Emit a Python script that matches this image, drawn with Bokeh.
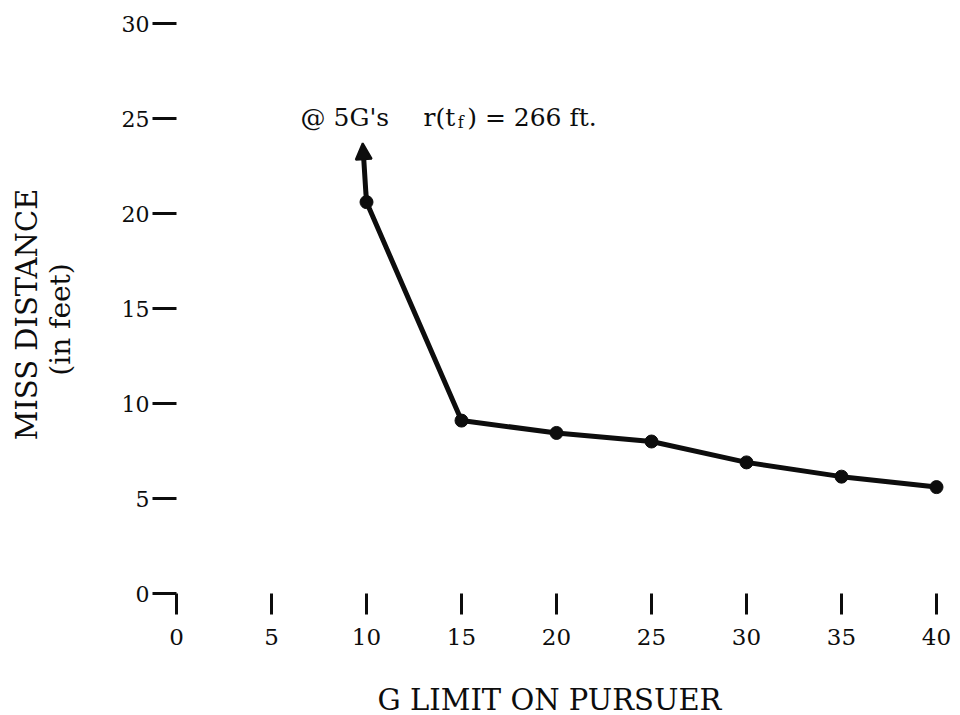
import math
from bokeh.plotting import figure
from bokeh.layouts import row, column
from bokeh.models import Range1d, FixedTicker, Label, Arrow, NormalHead, ColumnDataSource
from bokeh.core.properties import value
from bokeh.embed import file_html
from bokeh.resources import INLINE

# ---- data ----
g_limit = [10, 15, 20, 25, 30, 35, 40]
miss_distance = [20.6, 9.1, 8.45, 8.0, 6.9, 6.15, 5.6]
arrow_tip_x = 9.8
arrow_tip_y = 23.7
x_ticks = [0, 5, 10, 15, 20, 25, 30, 35, 40]
y_ticks = [0, 5, 10, 15, 20, 25, 30]
x_title = "G LIMIT ON PURSUER"
y_title = "MISS DISTANCE"
y_subtitle = "(in feet)"
note_head = "@ 5G's"
note_mid = "r(t"
note_sub = "f"
note_tail = ") = 266 ft."

FONT = "DejaVu Serif"
INK = "#0d0d0d"


def strip(w, h, fh):
    fig = figure(width=w, height=h, output_backend="svg", toolbar_location=None,
                 x_range=Range1d(0, w), y_range=Range1d(0, fh),
                 x_axis_location=None, y_axis_location=None, min_border=0)
    fig.outline_line_color = None
    fig.xgrid.visible = False
    fig.ygrid.visible = False
    fig.background_fill_color = "white"
    fig.border_fill_color = "white"
    return fig


# ---- main plot ----
p = figure(width=870, height=660, output_backend="svg", toolbar_location=None,
           x_range=Range1d(0, 784 / 19), y_range=Range1d(0, 593 / 19),
           min_border_left=86, min_border_right=0, min_border_top=0, min_border_bottom=67)
p.outline_line_color = None
p.xgrid.visible = False
p.ygrid.visible = False
p.background_fill_color = "white"
p.border_fill_color = "white"

xa = p.xaxis[0]
xa.ticker = FixedTicker(ticks=x_ticks)
xa.axis_line_color = None
xa.major_tick_out = 21
xa.major_tick_in = 0
xa.major_tick_line_width = 3
xa.major_tick_line_color = INK
xa.minor_tick_line_color = None
xa.major_label_standoff = 14
xa.major_label_text_font = FONT
xa.major_label_text_font_size = "23px"
xa.major_label_text_color = INK

ya = p.yaxis[0]
ya.ticker = FixedTicker(ticks=y_ticks)
ya.axis_line_color = None
ya.major_tick_out = 24
ya.major_tick_in = 0
ya.major_tick_line_width = 3
ya.major_tick_line_color = INK
ya.minor_tick_line_color = None
ya.major_label_standoff = 3
ya.major_label_text_font = FONT
ya.major_label_text_font_size = "22px"
ya.major_label_text_color = INK

src = ColumnDataSource(dict(x=g_limit, y=miss_distance))
p.line("x", "y", source=src, line_width=5, line_color=INK, line_join="round")
p.scatter("x", "y", source=src, size=13, fill_color=INK, line_color=INK)

p.add_layout(Arrow(end=NormalHead(size=16, fill_color=INK, line_color=INK, line_width=2),
                   x_start=g_limit[0], y_start=miss_distance[0],
                   x_end=arrow_tip_x, y_end=arrow_tip_y,
                   line_width=5, line_color=INK))


# annotation "@ 5G's r(t_f) = 266 ft."
def note(x, y, text, size):
    p.add_layout(Label(x=x, y=y, text=text, text_align="left", text_baseline="alphabetic",
                       text_font=FONT, text_font_size=size, text_color=INK))


note(6.53, 25.05, note_head, "25px")
note(13.0, 25.05, note_mid, "25px")
note(14.8, 24.8, note_sub, "16px")
note(15.3, 25.05, note_tail, "25px")

# ---- left strip with the y titles (its frame is aligned to the main frame: 593 px tall) ----
left = strip(90, 660, 593)
left.text(x=[26], y=[593 - 314], text=[y_title], angle=math.pi / 2,
          text_align="center", text_baseline="middle",
          text_font=value(FONT), text_font_size="29px", text_color=INK)
left.text(x=[60], y=[593 - 319], text=[y_subtitle], angle=math.pi / 2,
          text_align="center", text_baseline="middle",
          text_font=value(FONT), text_font_size="28px", text_color=INK)

# ---- bottom strip with the x title ----
bottom = strip(960, 55, 55)
bottom.text(x=[549], y=[16], text=[x_title], text_align="center", text_baseline="middle",
            text_font=value(FONT), text_font_size="29px", text_color=INK)

layout = column(row(left, p, spacing=0), bottom, spacing=0)
open("out.html", "w").write(file_html(layout, INLINE))
